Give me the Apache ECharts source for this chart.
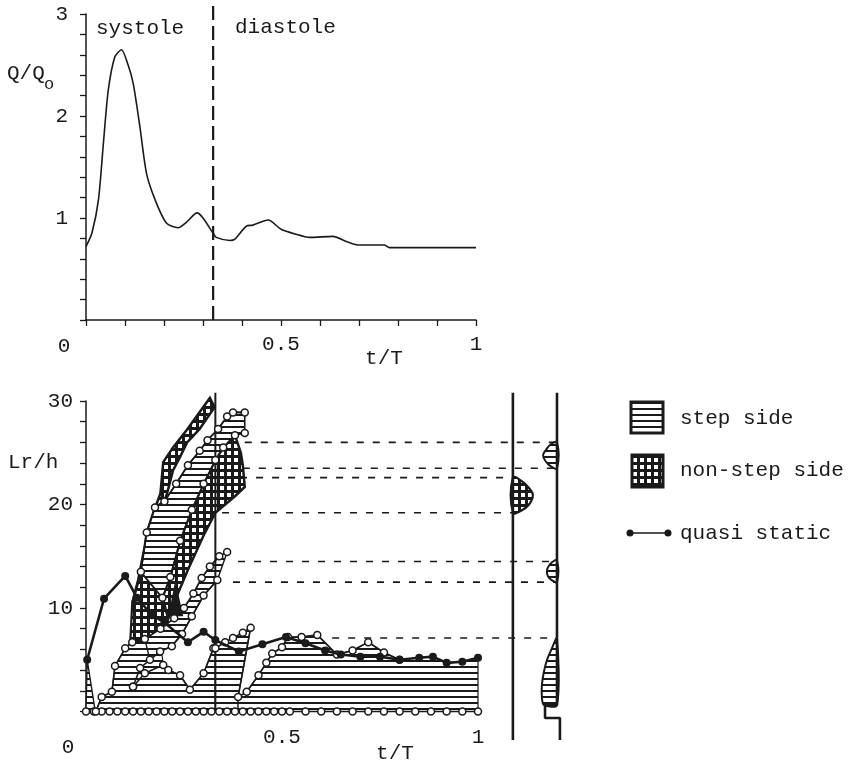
<!DOCTYPE html>
<html><head><meta charset="utf-8">
<script src="https://cdn.jsdelivr.net/npm/echarts@6/dist/echarts.min.js"></script>
<style>html,body{margin:0;padding:0;background:#fff}#c{width:851px;height:763px}</style>
</head><body><div id="c"></div>
<script>
// ---------- top panel: flow rate Q/Qo over one cycle ----------
const flowT = [0,0.015,0.032,0.045,0.057,0.074,0.091,0.108,0.121,0.138,0.155,0.177,0.206,0.236,0.258,0.285,0.30,0.326,0.334,0.369,0.381,0.411,0.428,0.467,0.50,0.539,0.573,0.633,0.667,0.697,0.765,0.778,1.0];
const flowQ = [0.72,0.85,1.18,1.75,2.25,2.58,2.65,2.5,2.32,1.9,1.44,1.18,0.95,0.905,0.96,1.05,1.0,0.85,0.81,0.78,0.79,0.92,0.93,0.98,0.89,0.84,0.81,0.82,0.77,0.735,0.735,0.71,0.71];
const systoleEnd = 0.326;
const phaseLabels = ['systole','diastole'];

// ---------- bottom panel: reattachment lengths Lr/h ----------
const baseT = [0,0.02,0.04,0.06,0.08,0.10,0.12,0.14,0.16,0.18,0.20,0.22,0.24,0.26,0.28,0.30,0.32,0.34,0.36,0.38,0.40,0.42,0.44,0.46,0.48,0.50,0.52,0.56,0.60,0.64,0.68,0.72,0.76,0.80,0.84,0.88,0.92,0.96,1.0];
const qsT = [0.003,0.046,0.10,0.13,0.168,0.20,0.26,0.30,0.33,0.39,0.45,0.51,0.56,0.61,0.65,0.70,0.75,0.80,0.85,0.885,0.92,0.96,1.0];
const qsL = [5.0,10.9,13.1,11.0,9.3,8.6,6.7,7.7,6.9,5.8,6.5,7.2,6.6,5.9,5.5,5.3,5.3,5.0,5.2,5.3,4.7,4.8,5.2];

// step side (open circles) boundary lines
const stepS0 = [[0,0],[0.003,5.0],[0.023,0.15]];
const stepC1 = [[0.025,0],[0.04,1.4],[0.066,1.9],[0.074,4.4],[0.1,6.1],[0.118,6.7]];
const stepC2 = [[0.12,2.4],[0.138,4.2],[0.163,5.0],[0.189,5.8],[0.219,6.3],[0.245,7.5],[0.27,9.2],[0.30,11.2],[0.335,12.7]];
const stepC3 = [[0.12,2.4],[0.15,3.7],[0.197,4.5],[0.21,4.0],[0.24,3.5],[0.265,2.1],[0.30,3.7],[0.325,6.1]];
const stepU2 = [[0.15,7.0],[0.19,8.0],[0.225,9.0],[0.25,10.0],[0.274,11.4],[0.295,12.9],[0.316,14.0],[0.34,15.0],[0.36,15.4]];
const stepC45 = [[0.33,6.1],[0.355,6.7],[0.375,7.1],[0.40,7.6],[0.42,8.1],[0.388,1.4],[0.41,1.9],[0.44,3.5],[0.46,4.7],[0.475,5.6],[0.50,6.2],[0.515,7.2],[0.55,7.2],[0.59,7.4],[0.64,5.5],[0.68,5.9],[0.72,6.7],[0.76,5.7],[0.80,5.0]];
const stepTail = [[0.85,5.2],[0.885,5.3],[0.92,4.7],[0.96,4.8],[1.0,5.2]];
const stepAreaA = [[0.025,0],[0.04,1.4],[0.066,1.9],[0.074,4.4],[0.1,6.1],[0.115,6.7],[0.15,6.8],[0.19,6.6],[0.197,4.5],[0.21,4.0],[0.24,3.5],[0.265,2.1],[0.30,3.7],[0.325,6.1],[0.33,6.1],[0.33,0]];
const bigLeft = [[0.14,13.5],[0.155,17.3],[0.176,19.7],[0.20,20.3],[0.23,22.0],[0.26,23.8],[0.29,25.2],[0.31,26.2],[0.337,27.3],[0.36,28.5],[0.375,28.9],[0.405,28.9]];
const bigRight = [[0.405,26.9],[0.38,26.7],[0.35,25.5],[0.33,24.3],[0.30,22.0],[0.27,19.5],[0.24,16.5],[0.215,13.0],[0.195,11.0]];

// non-step side (grid) regions
const gridN0 = [[0.113,6.8],[0.118,10.5],[0.14,13.5],[0.195,11.0],[0.21,9.0],[0.19,7.3],[0.15,7.0]];
const gridN1 = [[0.118,10.5],[0.133,12.7],[0.15,16.0],[0.17,19.0],[0.19,21.1],[0.197,24.1],[0.222,25.5],[0.257,27.2],[0.316,30.3],[0.328,29.4],[0.29,27.3],[0.258,26.0],[0.24,24.6],[0.222,23.3],[0.207,21.1],[0.20,20.3],[0.176,19.7],[0.155,17.3],[0.14,13.5]];
const gridN2 = [[0.195,11.0],[0.215,13.0],[0.24,16.5],[0.27,19.5],[0.30,22.0],[0.33,24.3],[0.35,25.5],[0.38,26.7],[0.395,25.0],[0.40,23.8],[0.405,21.7],[0.38,20.8],[0.33,19.2],[0.30,17.0],[0.26,13.7],[0.23,11.0],[0.21,9.0]];
const blackN3 = [[0.213,9.3],[0.228,12.2],[0.245,9.3]];

// projection lines to the profile strips on the right: [Lr/h, tStart, tEnd]
const projLines = [[26.0,0.405,1.2015],[23.5,0.40,1.2015],[22.6,0.393,1.089],[19.2,0.347,1.089],[14.5,0.388,1.2015],[12.5,0.375,1.2015],[7.1,0.628,1.2015]];
const stripA = [[1.089,30.8],[1.089,-2.75]];
const stripB = [[1.2015,30.8],[1.2015,0.63],[1.171,0.63],[1.171,-0.63],[1.209,-0.63],[1.209,-2.75]];
const bumpGrid = [[1.089,22.6],[1.11,22.3],[1.13,21.6],[1.14,20.9],[1.13,20.0],[1.11,19.4],[1.089,19.2]];
const bumpStep1 = [[1.2015,26.0],[1.185,25.8],[1.172,25.2],[1.166,24.75],[1.172,24.2],[1.185,23.7],[1.2015,23.5]];
const bumpStep2 = [[1.2015,14.6],[1.188,14.4],[1.178,13.9],[1.176,13.55],[1.178,13.1],[1.188,12.7],[1.2015,12.5]];
const bumpStep3 = [[1.2015,7.1],[1.189,6.14],[1.176,4.98],[1.168,3.82],[1.163,2.56],[1.163,1.4],[1.168,0.63],[1.2015,0.63]];
const splitT = 0.33;

const legendNames = ['step side','non-step side','quasi static'];

// ---------- styles ----------
const FONT = '"Liberation Mono","DejaVu Sans Mono",monospace';
const INK = '#1a1a1a';
function hatchPattern(){ const c=document.createElement('canvas'); c.width=8; c.height=6; const g=c.getContext('2d'); g.fillStyle='#fff'; g.fillRect(0,0,8,6); g.fillStyle=INK; g.fillRect(0,0,8,2); return {image:c, repeat:'repeat'}; }
function gridPattern(){ const c=document.createElement('canvas'); c.width=7; c.height=7; const g=c.getContext('2d'); g.fillStyle=INK; g.fillRect(0,0,7,7); g.fillStyle='#fff'; g.fillRect(3,3,4,4); return {image:c, repeat:'repeat'}; }
const HATCH = hatchPattern(), GRID = gridPattern();

function poly(pts, fill, lw, z, smooth){
  return {type:'custom', xAxisIndex:1, yAxisIndex:1, data:pts, z:z, silent:true, clip:false,
    renderItem:function(params, api){
      if(params.dataIndex!==0) return;
      const p = pts.map(v=>api.coord(v));
      return {type:'polygon', shape:{points:p, smooth:smooth||0}, style:{fill:fill, stroke:INK, lineWidth:lw}};
    }};
}
function circles(pts, z){
  return {type:'line', xAxisIndex:1, yAxisIndex:1, data:pts, z:z||5, clip:false, showAllSymbol:true,
    symbol:'circle', symbolSize:7, itemStyle:{color:'#fff', borderColor:INK, borderWidth:1.5},
    lineStyle:{color:INK, width:1.6}, silent:true};
}
function plain(pts, w, type, z){
  return {type:'line', xAxisIndex:1, yAxisIndex:1, data:pts, z:z||4, clip:false, symbol:'none',
    lineStyle:{color:INK, width:w, type:type||'solid'}, silent:true};
}

const series = [];
// top
series.push({type:'line', xAxisIndex:0, yAxisIndex:0, data:flowT.map((t,i)=>[t,flowQ[i]]), smooth:0.25, symbol:'none', lineStyle:{color:INK,width:1.6}, silent:true});
series.push({type:'line', xAxisIndex:0, yAxisIndex:0, data:[[systoleEnd,0],[systoleEnd,3.08]], clip:false, symbol:'none', lineStyle:{color:INK,width:2.2,type:[14,6]}, silent:true});

// bottom regions
series.push(poly(gridN0, GRID, 2.2, 2));
series.push(poly(gridN1, GRID, 2.5, 2));
series.push(poly(gridN2, GRID, 2.5, 2));
series.push(poly(stepS0, HATCH, 1.4, 3));
series.push(poly(stepAreaA, HATCH, 1.2, 3));
series.push(poly([[0.33,0]].concat(stepC45.slice(0,6)).concat([[0.388,0]]), HATCH, 1.2, 3));
series.push(poly([[0.388,0]].concat(stepC45.slice(5)).concat(stepTail).concat([[1.0,0]]), HATCH, 1.2, 3));
series.push(poly(bigLeft.concat(bigRight), HATCH, 1.6, 3));
series.push(poly(stepU2.concat(stepC2.slice(2).reverse()), HATCH, 1.4, 3));
series.push(poly(blackN3, INK, 2, 3));
// profile strips
series.push(poly(bumpGrid, GRID, 2.2, 3, 0.4));
series.push(poly(bumpStep1, HATCH, 2, 3, 0.4));
series.push(poly(bumpStep2, HATCH, 2, 3, 0.4));
series.push(poly(bumpStep3, HATCH, 2, 3, 0.3));
series.push(plain(stripA, 2.6, 'solid', 4));
series.push(plain(stripB, 2.6, 'solid', 4));
projLines.forEach(r=>series.push(plain([[r[1],r[0]],[r[2],r[0]]], 1.6, [7,9], 4)));
series.push(plain([[splitT,0],[splitT,30.8]], 2, 'solid', 4));
// circle lines
series.push(circles(baseT.map(t=>[t,0]), 5));
[stepC1, stepC2, stepC3, stepU2, stepC45, bigLeft, bigRight].forEach(p=>series.push(circles(p,5)));
// quasi static
series.push({type:'line', name:legendNames[2], xAxisIndex:1, yAxisIndex:1, data:qsT.map((t,i)=>[t,qsL[i]]), z:6, clip:false, showAllSymbol:true,
  symbol:'circle', symbolSize:8, itemStyle:{color:INK}, lineStyle:{color:INK,width:2.6}, silent:true});

const lab = {fontFamily:FONT, fontSize:21, color:INK};
function near(v,a){ return Math.abs(v-a)<1e-6; }
function txt(s,x,y,align,size){ return {type:'text', x:x, y:y, silent:true, style:{text:s, fill:INK, font:(size||21)+'px '+FONT, align:align||'left', verticalAlign:'middle'}}; }

const option = {
  backgroundColor:'#fff',
  animation:false,
  grid:[{left:86, top:14, width:390, height:306},{left:86, top:401, width:490, height:310.5}],
  xAxis:[
    {gridIndex:0, type:'value', min:0, max:1, interval:0.1, axisLine:{show:true,onZero:false,lineStyle:{color:INK,width:1.5}},
     axisTick:{show:true,length:6,lineStyle:{color:INK,width:1.3}}, splitLine:{show:false},
     axisLabel:Object.assign({margin:14, formatter:v=>near(v,0.5)?'0.5':(near(v,1)?'1':'')},lab)},
    {gridIndex:1, type:'value', min:0, max:1.25, interval:0.25, axisLine:{show:false}, axisTick:{show:false}, splitLine:{show:false},
     axisLabel:Object.assign({margin:15, formatter:v=>near(v,0.5)?'0.5':(near(v,1)?'1':'')},lab)}
  ],
  yAxis:[
    {gridIndex:0, type:'value', min:0, max:3, interval:0.2, axisLine:{show:true,lineStyle:{color:INK,width:1.5}},
     axisTick:{show:true,length:6,lineStyle:{color:INK,width:1.3}}, splitLine:{show:false},
     axisLabel:Object.assign({margin:18, formatter:v=>(v>0.5&&near(v,Math.round(v)))?String(Math.round(v)):''},lab)},
    {gridIndex:1, type:'value', min:0, max:30, interval:2, axisLine:{show:true,lineStyle:{color:INK,width:1.5}},
     axisTick:{show:true,length:6,lineStyle:{color:INK,width:1.3}}, splitLine:{show:false},
     axisLabel:Object.assign({margin:13, formatter:v=>(v>0&&Math.round(v)%10===0)?String(Math.round(v)):''},lab)}
  ],
  series:series,
  graphic:[
    txt(phaseLabels[0],96,28), txt(phaseLabels[1],235,27),
    txt('Q/Q',7,73), txt('o',44,84,'left',17),
    txt('t/T',384,358,'center'), txt('0',64,346,'center'),
    txt('Lr/h',8,462), txt('t/T',395,753,'center'), txt('0',68,747,'center'),
    {type:'rect', shape:{x:631,y:402,width:32,height:31}, style:{fill:HATCH, stroke:INK, lineWidth:3}},
    txt(legendNames[0],680,418),
    {type:'rect', shape:{x:632,y:455,width:31,height:32}, style:{fill:GRID, stroke:INK, lineWidth:3}},
    txt(legendNames[1],680,470),
    {type:'line', shape:{x1:630,y1:533,x2:668,y2:533}, style:{stroke:INK, lineWidth:1.6}},
    {type:'circle', shape:{cx:630,cy:533,r:3.5}, style:{fill:INK}},
    {type:'circle', shape:{cx:668,cy:533,r:3.5}, style:{fill:INK}},
    txt(legendNames[2],680,533)
  ]
};
const chart = echarts.init(document.getElementById('c'), null, {renderer:'canvas'});
chart.setOption(option);
</script></body></html>
